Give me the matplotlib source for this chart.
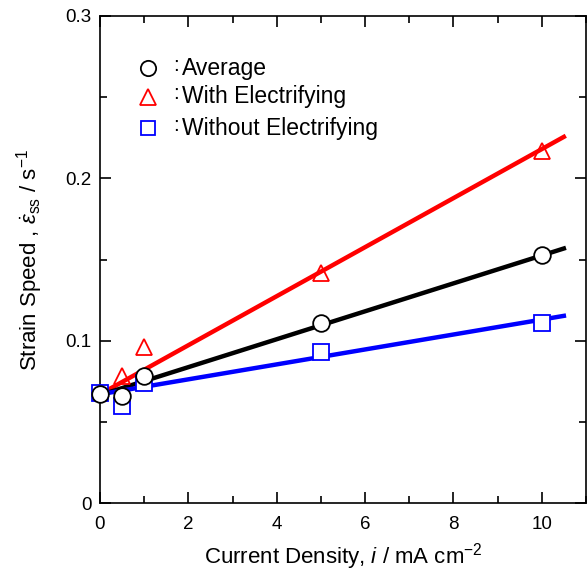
import matplotlib
matplotlib.use("Agg")
import matplotlib.pyplot as plt
import numpy as np
from matplotlib.ticker import MultipleLocator

plt.rcParams['font.family'] = ['Liberation Sans', 'DejaVu Sans']
plt.rcParams['mathtext.fontset'] = 'custom'
plt.rcParams['mathtext.rm'] = 'Liberation Sans'
plt.rcParams['mathtext.it'] = 'Liberation Sans:italic'

# Data
current = [0, 0.5, 1, 5, 10]
avg = [0.067, 0.066, 0.078, 0.111, 0.153]
with_x = [0.5, 1, 5, 10]
with_e = [0.078, 0.096, 0.142, 0.217]
without_e = [0.068, 0.060, 0.074, 0.093, 0.111]

# fitted lines (intercept, slope) and x span
fit_x = [0, 10.5]
fit_avg = (0.0665, 0.0086)
fit_with = (0.067, 0.0151)
fit_without = (0.067, 0.0046)

fig = plt.figure(figsize=(5.88, 5.71), dpi=100)
ax = fig.add_axes([0.170, 0.119, 0.8265, 0.853])

xs = np.array(fit_x)
ax.plot(xs, fit_with[0] + fit_with[1] * xs, color='red', lw=3.2, zorder=2)
ax.plot(xs, fit_avg[0] + fit_avg[1] * xs, color='black', lw=3.2, zorder=2)
ax.plot(xs, fit_without[0] + fit_without[1] * xs, color='blue', lw=3.2, zorder=2)

ax.plot(current, without_e, 's', ms=11, mfc='white', mec='blue', mew=1.3, zorder=3, clip_on=False)
ax.plot(with_x, with_e, '^', ms=12, mfc='none', mec='red', mew=1.3, zorder=4, clip_on=False)
ax.plot(current, avg, 'o', ms=12, mfc='white', mec='black', mew=1.3, zorder=5, clip_on=False)

# legend drawn as markers + text
leg_y = [0.893, 0.834, 0.770]
leg_txt = ['Average', 'With Electrifying', 'Without Electrifying']
ax.plot([0.099], [leg_y[0]], 'o', ms=11, mfc='white', mec='black', mew=1.3, transform=ax.transAxes, clip_on=False)
ax.plot([0.099], [leg_y[1]], '^', ms=11, mfc='white', mec='red', mew=1.3, transform=ax.transAxes, clip_on=False)
ax.plot([0.099], [leg_y[2]], 's', ms=10, mfc='white', mec='blue', mew=1.3, transform=ax.transAxes, clip_on=False)
for y, t in zip(leg_y, leg_txt):
    ax.text(0.150, y + 0.006, ':', transform=ax.transAxes, fontsize=15, va='center')
    ax.text(0.168, y, t, transform=ax.transAxes, fontsize=16.5, va='center')

ax.set_xlim(0, 11)
ax.set_ylim(0, 0.3)
ax.xaxis.set_major_locator(MultipleLocator(2))
ax.xaxis.set_minor_locator(MultipleLocator(1))
ax.yaxis.set_minor_locator(MultipleLocator(0.05))
ax.set_yticks([0, 0.1, 0.2, 0.3])
ax.set_yticklabels(['0', '0.1', '0.2', '0.3'])
ax.tick_params(which='both', direction='in', top=True, right=True, labelsize=13.5)
ax.tick_params(which='major', length=8, width=1.2, pad=6)
ax.tick_params(which='minor', length=5, width=1.2)
ax.tick_params(axis='x', which='major', pad=9)
for s in ax.spines.values():
    s.set_linewidth(1.2)

ax.set_xlabel('Current Density, $\\mathit{i}$ / mA cm$^{-2}$', fontsize=16, labelpad=6)
ax.set_ylabel('Strain Speed , $\\dot{\\varepsilon}_{\\rm ss}$ / s$^{-1}$', fontsize=16, labelpad=15)

fig.savefig('out.png', dpi=100)
